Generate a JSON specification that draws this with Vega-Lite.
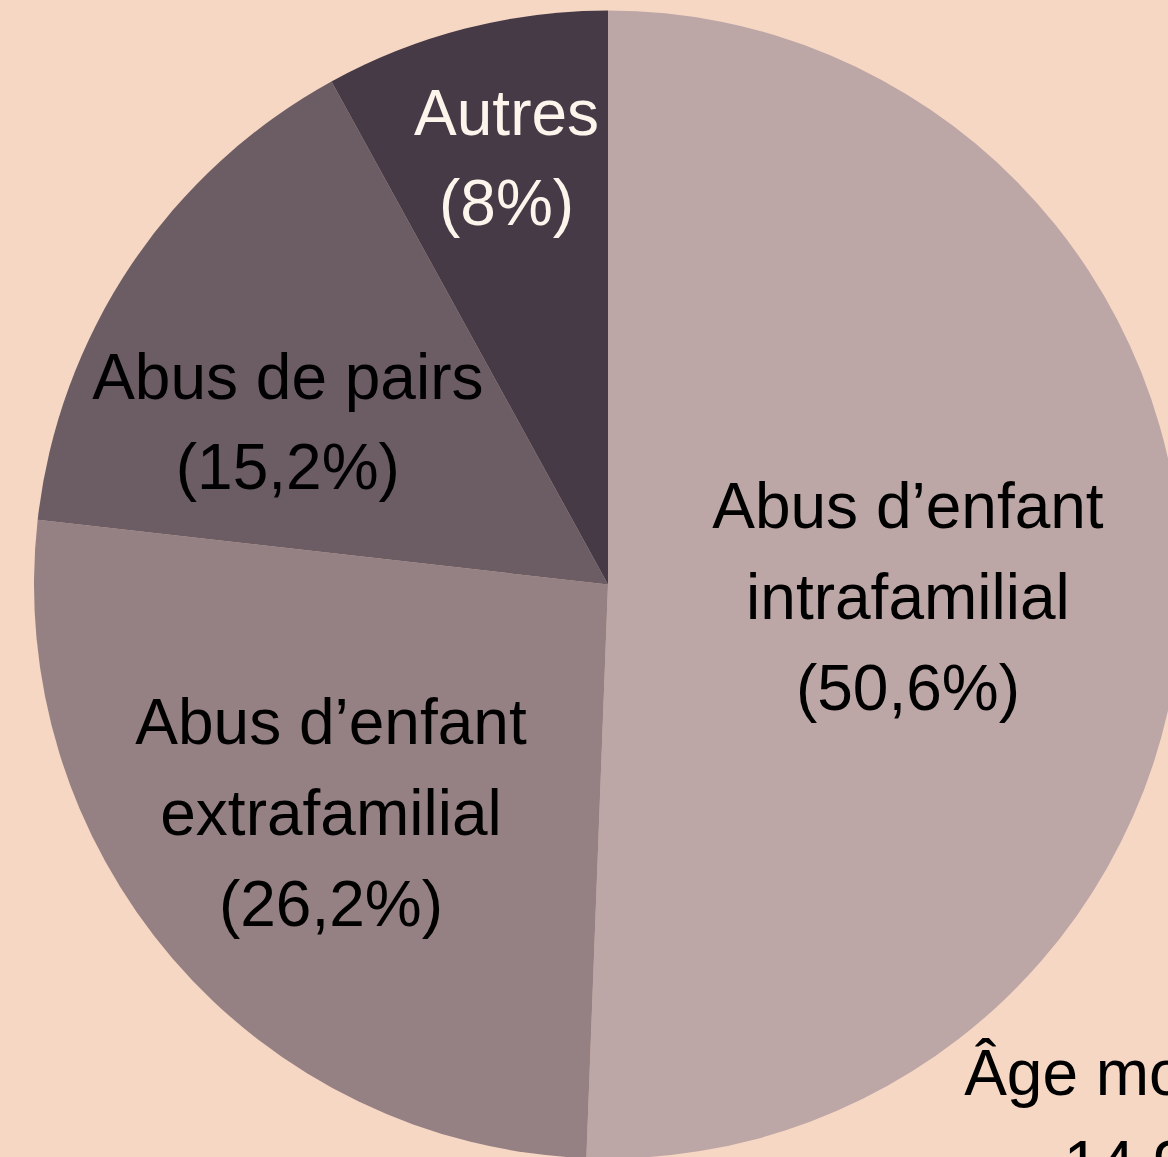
{
  "$schema": "https://vega.github.io/schema/vega-lite/v6.json",
  "width": 1120,
  "height": 1145,
  "autosize": "none",
  "padding": {"left": 48, "top": 12, "right": 0, "bottom": 0},
  "background": "#F6D7C4",
  "config": {"view": {"stroke": null}, "text": {"font": "Liberation Sans"}},
  "data": {
    "values": [
      {"categorie": "Abus d’enfant intrafamilial", "part": 50.6, "ordre": 1, "etiquette": ["Abus d’enfant", "intrafamilial", "(50,6%)"]},
      {"categorie": "Abus d’enfant extrafamilial", "part": 26.2, "ordre": 2, "etiquette": ["Abus d’enfant", "extrafamilial", "(26,2%)"]},
      {"categorie": "Abus de pairs", "part": 15.2, "ordre": 3, "etiquette": ["Abus de pairs", "(15,2%)"]},
      {"categorie": "Autres", "part": 8, "ordre": 4, "etiquette": ["Autres", "(8%)"]}
    ]
  },
  "layer": [
    {
      "mark": {"type": "arc", "radius": 574},
      "encoding": {
        "theta": {"field": "part", "type": "quantitative", "stack": true},
        "order": {"field": "ordre", "type": "quantitative"},
        "color": {
          "field": "categorie",
          "type": "nominal",
          "scale": {
            "domain": ["Abus d’enfant intrafamilial", "Abus d’enfant extrafamilial", "Abus de pairs", "Autres"],
            "range": ["#BDA6A6", "#958083", "#6C5C64", "#463A47"]
          },
          "legend": null
        }
      }
    },
    {
      "mark": {"type": "text", "radius": 300, "fontSize": 64, "lineHeight": 91, "baseline": "middle", "dy": -81, "color": "#000000"},
      "encoding": {
        "theta": {"field": "part", "type": "quantitative", "stack": true},
        "order": {"field": "ordre", "type": "quantitative"},
        "text": {"condition": {"test": "datum.ordre == 1", "field": "etiquette", "type": "nominal"}, "value": ""}
      }
    },
    {
      "mark": {"type": "text", "radius": 360, "fontSize": 64, "lineHeight": 91, "baseline": "middle", "dx": -4, "dy": -94, "color": "#000000"},
      "encoding": {
        "theta": {"field": "part", "type": "quantitative", "stack": true},
        "order": {"field": "ordre", "type": "quantitative"},
        "text": {"condition": {"test": "datum.ordre == 2", "field": "etiquette", "type": "nominal"}, "value": ""}
      }
    },
    {
      "mark": {"type": "text", "radius": 359, "fontSize": 64, "lineHeight": 90, "baseline": "middle", "dx": -22, "dy": -5, "color": "#000000"},
      "encoding": {
        "theta": {"field": "part", "type": "quantitative", "stack": true},
        "order": {"field": "ordre", "type": "quantitative"},
        "text": {"condition": {"test": "datum.ordre == 3", "field": "etiquette", "type": "nominal"}, "value": ""}
      }
    },
    {
      "mark": {"type": "text", "radius": 436, "fontSize": 64, "lineHeight": 90, "baseline": "middle", "dx": 7, "dy": -46, "color": "#FBF5EC"},
      "encoding": {
        "theta": {"field": "part", "type": "quantitative", "stack": true},
        "order": {"field": "ordre", "type": "quantitative"},
        "text": {"condition": {"test": "datum.ordre == 4", "field": "etiquette", "type": "nominal"}, "value": ""}
      }
    },
    {
      "data": {"values": [{"note": ["Âge moyen", "14,9"]}]},
      "mark": {"type": "text", "fontSize": 64, "lineHeight": 91, "baseline": "alphabetic", "align": "center", "dx": 518, "dy": 510, "color": "#000000"},
      "encoding": {
        "text": {"field": "note", "type": "nominal"}
      }
    }
  ]
}
